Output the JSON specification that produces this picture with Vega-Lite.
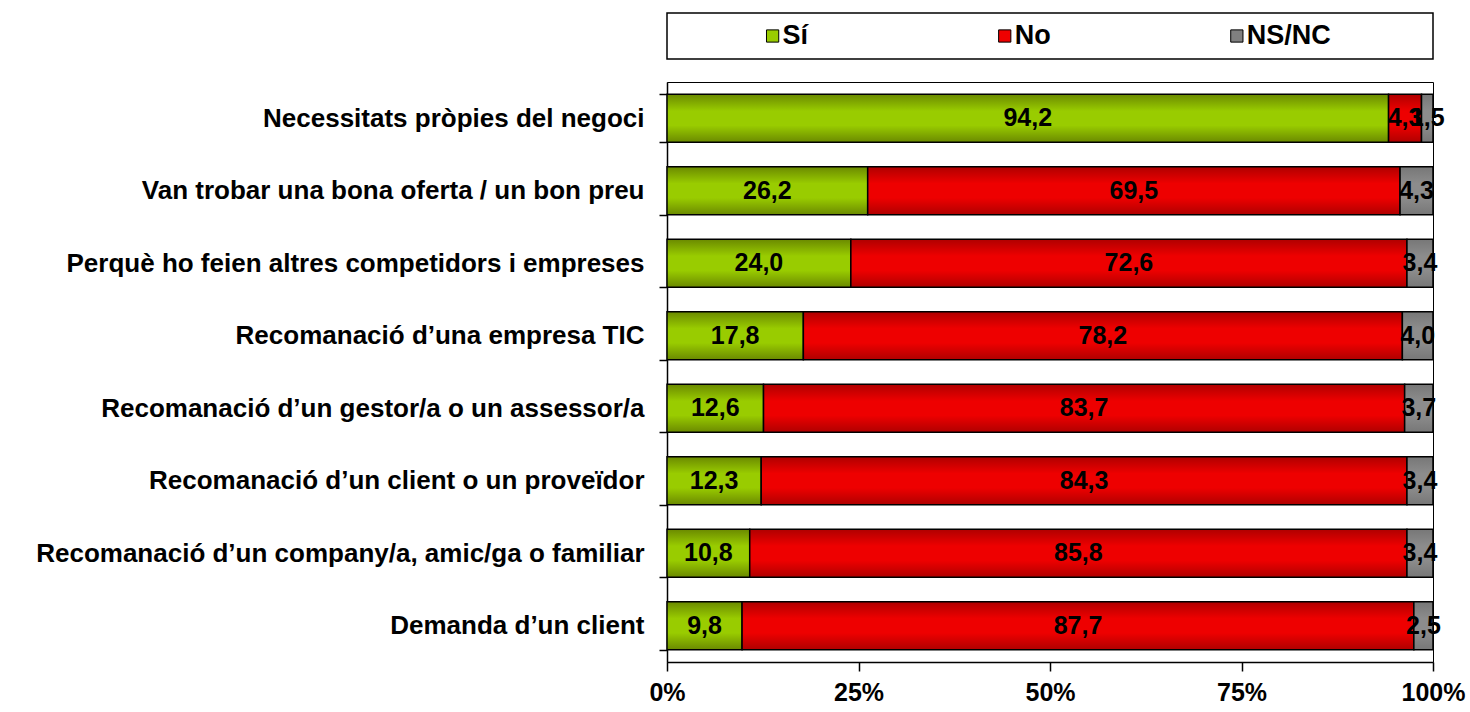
{
  "$schema": "https://vega.github.io/schema/vega-lite/v6.json",
  "background": "white",
  "padding": {"left": 35, "top": 12, "right": 5, "bottom": 2},
  "spacing": 8,
  "config": {
    "view": {"stroke": null},
    "font": "Liberation Sans",
    "locale": {"number": {"decimal": ",", "thousands": ".", "grouping": [3], "currency": ["", " €"], "percent": "%"}}
  },
  "datasets": {
    "series": [{"serie": "Sí"}, {"serie": "No"}, {"serie": "NS/NC"}],
    "d": [
      {"motiu": "Necessitats pròpies del negoci", "serie": "Sí", "valor": 94.2},
      {"motiu": "Necessitats pròpies del negoci", "serie": "No", "valor": 4.3},
      {"motiu": "Necessitats pròpies del negoci", "serie": "NS/NC", "valor": 1.5},
      {"motiu": "Van trobar una bona oferta / un bon preu", "serie": "Sí", "valor": 26.2},
      {"motiu": "Van trobar una bona oferta / un bon preu", "serie": "No", "valor": 69.5},
      {"motiu": "Van trobar una bona oferta / un bon preu", "serie": "NS/NC", "valor": 4.3},
      {"motiu": "Perquè ho feien altres competidors i empreses", "serie": "Sí", "valor": 24.0},
      {"motiu": "Perquè ho feien altres competidors i empreses", "serie": "No", "valor": 72.6},
      {"motiu": "Perquè ho feien altres competidors i empreses", "serie": "NS/NC", "valor": 3.4},
      {"motiu": "Recomanació d’una empresa TIC", "serie": "Sí", "valor": 17.8},
      {"motiu": "Recomanació d’una empresa TIC", "serie": "No", "valor": 78.2},
      {"motiu": "Recomanació d’una empresa TIC", "serie": "NS/NC", "valor": 4.0},
      {"motiu": "Recomanació d’un gestor/a o un assessor/a", "serie": "Sí", "valor": 12.6},
      {"motiu": "Recomanació d’un gestor/a o un assessor/a", "serie": "No", "valor": 83.7},
      {"motiu": "Recomanació d’un gestor/a o un assessor/a", "serie": "NS/NC", "valor": 3.7},
      {"motiu": "Recomanació d’un client o un proveïdor", "serie": "Sí", "valor": 12.3},
      {"motiu": "Recomanació d’un client o un proveïdor", "serie": "No", "valor": 84.3},
      {"motiu": "Recomanació d’un client o un proveïdor", "serie": "NS/NC", "valor": 3.4},
      {"motiu": "Recomanació d’un company/a, amic/ga o familiar", "serie": "Sí", "valor": 10.8},
      {"motiu": "Recomanació d’un company/a, amic/ga o familiar", "serie": "No", "valor": 85.8},
      {"motiu": "Recomanació d’un company/a, amic/ga o familiar", "serie": "NS/NC", "valor": 3.4},
      {"motiu": "Demanda d’un client", "serie": "Sí", "valor": 9.8},
      {"motiu": "Demanda d’un client", "serie": "No", "valor": 87.7},
      {"motiu": "Demanda d’un client", "serie": "NS/NC", "valor": 2.5}
    ]
  },
  "vconcat": [
    {
      "width": 766,
      "height": 46,
      "view": {"stroke": "black", "strokeWidth": 1.5},
      "data": {"name": "series"},
      "layer": [
        {
          "mark": {"type": "square", "size": 150, "stroke": "black", "strokeWidth": 1, "opacity": 1},
          "encoding": {
            "x": {"field": "serie", "type": "nominal", "sort": null, "scale": {"type": "point", "padding": 0.65, "align": 0.35}, "axis": null},
            "color": {"field": "serie", "type": "nominal", "sort": null, "scale": {"domain": ["Sí", "No", "NS/NC"], "range": ["#99CC00", "#EE0000", "#808080"]}, "legend": null}
          }
        },
        {
          "mark": {"type": "text", "align": "left", "dx": 10, "font": "Liberation Sans", "fontWeight": "bold", "fontSize": 27, "color": "black"},
          "encoding": {
            "x": {"field": "serie", "type": "nominal", "sort": null, "scale": {"type": "point", "padding": 0.65, "align": 0.35}, "axis": null},
            "text": {"field": "serie"}
          }
        }
      ]
    },
    {
      "width": 766,
      "height": 580,
      "view": {"stroke": "black", "strokeWidth": 1},
      "data": {"name": "d"},
      "transform": [
        {"stack": "valor", "groupby": ["motiu"], "sort": [{"field": "serie", "order": "descending"}], "offset": "normalize", "as": ["x0", "x1"]},
        {"calculate": "(datum.x0 + datum.x1) / 2", "as": "xm"}
      ],
      "encoding": {
        "y": {
          "field": "motiu", "type": "nominal", "sort": null,
          "scale": {"paddingInner": 0.34, "paddingOuter": 0.17},
          "axis": {
            "title": null, "domainColor": "black", "domainWidth": 1.5,
            "tickBand": "extent", "tickSize": 8, "tickColor": "black", "tickWidth": 1.5,
            "labelFont": "Liberation Sans", "labelFontWeight": "bold", "labelFontSize": 26,
            "labelColor": "black", "labelPadding": 15, "labelLimit": 800
          }
        }
      },
      "layer": [
        {
          "mark": {"type": "bar", "stroke": "black", "strokeWidth": 1.5},
          "encoding": {
            "x": {
              "field": "x0", "type": "quantitative",
              "scale": {"domain": [0, 1], "nice": false},
              "axis": {
                "values": [0, 0.25, 0.5, 0.75, 1], "format": ".0%", "title": null, "grid": false,
                "labelFont": "Liberation Sans", "labelFontWeight": "bold", "labelFontSize": 25,
                "labelColor": "black", "labelFlush": false, "labelPadding": 9,
                "tickSize": 9, "tickColor": "black", "tickWidth": 1.5,
                "domainColor": "black", "domainWidth": 1.5
              }
            },
            "x2": {"field": "x1"},
            "fill": {
              "condition": [
                {"test": "datum.serie === 'Sí'", "value": {"gradient": "linear", "x1": 0, "y1": 0, "x2": 0, "y2": 1, "stops": [{"offset": 0, "color": "#6B8A00"}, {"offset": 0.35, "color": "#99CC00"}, {"offset": 0.65, "color": "#99CC00"}, {"offset": 1, "color": "#6B8A00"}]}},
                {"test": "datum.serie === 'No'", "value": {"gradient": "linear", "x1": 0, "y1": 0, "x2": 0, "y2": 1, "stops": [{"offset": 0, "color": "#B00000"}, {"offset": 0.35, "color": "#EE0000"}, {"offset": 0.65, "color": "#EE0000"}, {"offset": 1, "color": "#B00000"}]}}
              ],
              "value": {"gradient": "linear", "x1": 0, "y1": 0, "x2": 0, "y2": 1, "stops": [{"offset": 0, "color": "#777777"}, {"offset": 0.35, "color": "#8C8C8C"}, {"offset": 0.65, "color": "#8C8C8C"}, {"offset": 1, "color": "#777777"}]}
            }
          }
        },
        {
          "mark": {"type": "text", "font": "Liberation Sans", "fontWeight": "bold", "fontSize": 25, "color": "black"},
          "encoding": {
            "x": {"field": "xm", "type": "quantitative"},
            "text": {"field": "valor", "type": "quantitative", "format": ".1f"}
          }
        }
      ]
    }
  ]
}
